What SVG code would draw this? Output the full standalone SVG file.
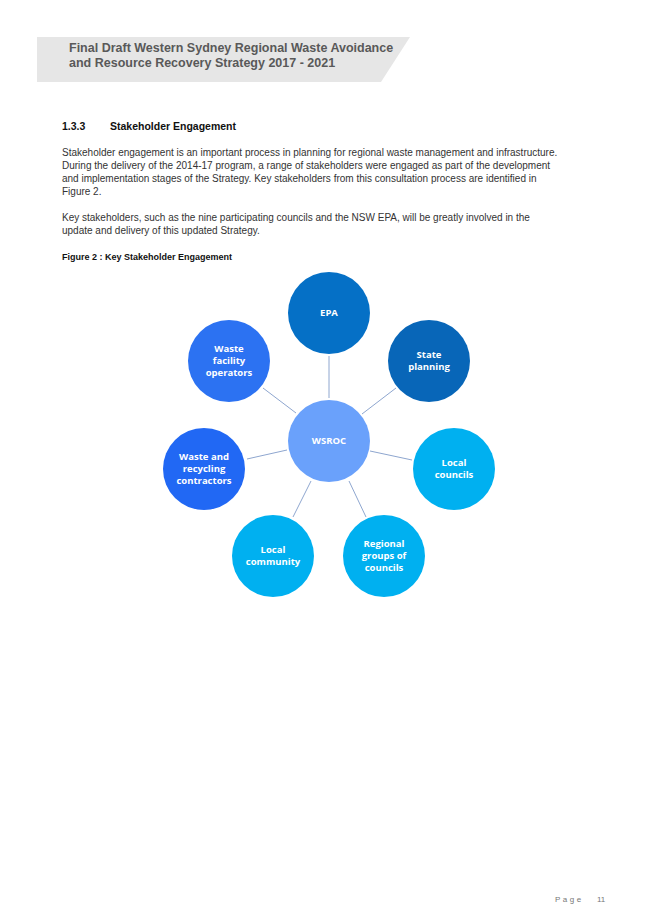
<svg xmlns="http://www.w3.org/2000/svg" width="653" height="924" viewBox="0 0 653 924">
<style>
.h{font:bold 12.5px "Liberation Sans",Arial,sans-serif;fill:#595959}
.b{font:10px "Liberation Sans",Arial,sans-serif;fill:#333}
.n{font:bold 9.5px "Open Sans","Liberation Sans",sans-serif;fill:#fff;text-anchor:middle}
.c{stroke:#8EA6CF;stroke-width:1}
</style>
<rect width="653" height="924" fill="#fff"/>
<polygon points="37,37 410,37 381,82 37,82" fill="#e6e6e6"/>
<text class="h" x="69" y="52">Final Draft Western Sydney Regional Waste Avoidance</text>
<text class="h" x="69" y="67">and Resource Recovery Strategy 2017 - 2021</text>
<text x="62" y="130" style="font:bold 10.5px 'Liberation Sans',Arial,sans-serif;fill:#111">1.3.3</text>
<text x="110" y="130" style="font:bold 10.5px 'Liberation Sans',Arial,sans-serif;fill:#111">Stakeholder Engagement</text>
<text class="b" x="62" y="156">Stakeholder engagement is an important process in planning for regional waste management and infrastructure.</text>
<text class="b" x="62" y="169">During the delivery of the 2014-17 program, a range of stakeholders were engaged as part of the development</text>
<text class="b" x="62" y="182">and implementation stages of the Strategy. Key stakeholders from this consultation process are identified in</text>
<text class="b" x="62" y="195">Figure 2.</text>
<text class="b" x="62" y="221">Key stakeholders, such as the nine participating councils and the NSW EPA, will be greatly involved in the</text>
<text class="b" x="62" y="234">update and delivery of this updated Strategy.</text>
<text x="62" y="260" style="font:bold 9px 'Liberation Sans',Arial,sans-serif;fill:#111">Figure 2 : Key Stakeholder Engagement</text>
<g id="connectors">
<line class="c" x1="329" y1="356" x2="329" y2="398"/>
<line class="c" x1="396" y1="388" x2="362" y2="414"/>
<line class="c" x1="263" y1="388" x2="296" y2="413"/>
<line class="c" x1="247" y1="459" x2="287" y2="450"/>
<line class="c" x1="370" y1="451" x2="412" y2="460"/>
<line class="c" x1="349" y1="481" x2="366" y2="517"/>
<line class="c" x1="311" y1="481" x2="293" y2="517"/>
</g>
<g id="wsroc"><circle cx="329" cy="441" r="41" fill="#6AA1FB"/><text class="n" x="329" y="444">WSROC</text></g>
<g id="epa"><circle cx="329" cy="313" r="41" fill="#0570C6"/><text class="n" x="329" y="316">EPA</text></g>
<g id="state"><circle cx="429" cy="361" r="41" fill="#0866B8"/><text class="n" x="429" y="358">State</text><text class="n" x="429" y="370">planning</text></g>
<g id="wfo"><circle cx="229" cy="361" r="41" fill="#2C72F2"/><text class="n" x="229" y="352">Waste</text><text class="n" x="229" y="364">facility</text><text class="n" x="229" y="376">operators</text></g>
<g id="wrc"><circle cx="204" cy="469" r="41" fill="#2168F4"/><text class="n" x="204" y="460">Waste and</text><text class="n" x="204" y="472">recycling</text><text class="n" x="204" y="484">contractors</text></g>
<g id="lc"><circle cx="454" cy="469" r="41" fill="#00B0F0"/><text class="n" x="454" y="466">Local</text><text class="n" x="454" y="478">councils</text></g>
<g id="rg"><circle cx="384" cy="556" r="41" fill="#00B0F0"/><text class="n" x="384" y="547">Regional</text><text class="n" x="384" y="559">groups of</text><text class="n" x="384" y="571">councils</text></g>
<g id="lcom"><circle cx="273" cy="556" r="41" fill="#00B0F0"/><text class="n" x="273" y="553">Local</text><text class="n" x="273" y="565">community</text></g>
<text x="555" y="902" style="font:8px 'Liberation Sans',Arial,sans-serif;fill:#777;letter-spacing:2.5px">Page</text>
<text x="597" y="902" style="font:8px 'Liberation Sans',Arial,sans-serif;fill:#777">11</text>
</svg>
